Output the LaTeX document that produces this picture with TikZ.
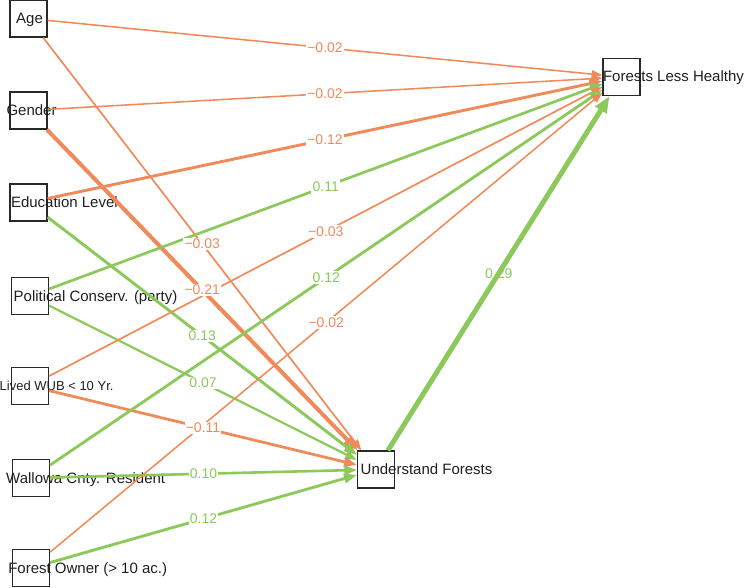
\documentclass[tikz,border=0pt]{standalone}
\usepackage{fontspec}
\setmainfont{Liberation Sans}
\usetikzlibrary{arrows.meta}
\definecolor{negc}{RGB}{240,138,90}
\definecolor{posc}{RGB}{140,200,90}
\definecolor{boxgray}{RGB}{40,40,40}
\tikzset{
  box/.style={draw=boxgray, line width=1.3pt, minimum size=37pt, inner sep=0pt},
  vlab/.style={anchor=base west, font=\fontsize{15}{18}\selectfont, text=black!88, inner sep=0pt},
  vlabs/.style={anchor=base west, font=\fontsize{13}{16}\selectfont, text=black!88, inner sep=0pt},
  edgeline/.style={-{Triangle[length=8pt 1.7, width=5.5pt 1.4]}},
  negedge/.style={edgeline, draw=negc},
  posedge/.style={edgeline, draw=posc},
  elab/.style={fill=white, inner sep=1.2pt, font=\fontsize{14}{16}\selectfont},
  nlab/.style={elab, text=negc},
  plab/.style={elab, text=posc}
}
\begin{document}
\begin{tikzpicture}[x=1pt,y=-1pt]
\useasboundingbox (0,0) rectangle (744,588);
% boxes
\node[box] (age) at (28.5,18.5) {};
\node[box] (gen) at (28.5,110.5) {};
\node[box] (edu) at (28.5,202.5) {};
\node[box] (pol) at (30,296) {};
\node[box] (liv) at (30,386) {};
\node[box] (wal) at (31,478) {};
\node[box] (own) at (31,568) {};
\node[box] (und) at (376,469.5) {};
\node[box] (flh) at (621.5,77) {};
% node texts
\node[vlab] (tage) at (16,23.5) {Age};
\node[vlab] (tgen) at (6.3,115.5) {Gender};
\node[vlab] (tedu) at (10.8,207.5) {Education Level};
\node[vlab] (tpol) at (13.5,301) {Political Conserv. (party)};
\node[vlabs] (tliv) at (-0.5,390.7) {Lived WUB < 10 Yr.};
\node[vlab] (twal) at (6,483) {Wallowa Cnty. Resident};
\node[vlab] (town) at (8.1,573) {Forest Owner (> 10 ac.)};
\node[vlab] (tund) at (360.5,474.5) {Understand Forests};
\node[vlab] (tflh) at (602.8,82) {Forests Less Healthy};
% edges to Understand Forests
\draw[negedge, line width=1.7pt] (age) -- coordinate[midway] (m1) (und);
\draw[negedge, line width=4pt] (gen) -- coordinate[midway] (m2) (und);
\draw[posedge, line width=2.95pt] (edu) -- coordinate[midway] (m3) (und);
\draw[posedge, line width=2.2pt] (pol) -- coordinate[midway] (m4) (und);
\draw[negedge, line width=2.75pt] (liv) -- coordinate[midway] (m5) (und);
\draw[posedge, line width=2.6pt] (wal) -- coordinate[midway] (m6) (und);
\draw[posedge, line width=2.85pt] (own) -- coordinate[midway] (m7) (und);
% edges to Forests Less Healthy
\draw[negedge, line width=1.55pt] (age) -- coordinate[midway] (m8) (flh);
\draw[negedge, line width=1.55pt] (gen) -- coordinate[midway] (m9) (flh);
\draw[negedge, line width=2.9pt] (edu) -- coordinate[midway] (m10) (flh);
\draw[posedge, line width=2.7pt] (pol) -- coordinate[midway] (m11) (flh);
\draw[negedge, line width=1.7pt] (liv) -- coordinate[midway] (m12) (flh);
\draw[posedge, line width=2.85pt] (wal) -- coordinate[midway] (m13) (flh);
\draw[negedge, line width=1.55pt] (own) -- coordinate[midway] (m14) (flh);
\draw[posedge, line width=5pt] (und) -- coordinate[midway] (m15) (flh);
% labels
\node[nlab] (l1) at (m1) {−0.03};
\node[nlab] (l2) at (m2) {−0.21};
\node[plab] (l3) at (m3) {0.13};
\node[plab] (l4) at (m4) {0.07};
\node[nlab] (l5) at (m5) {−0.11};
\node[plab] (l6) at (m6) {0.10};
\node[plab] (l7) at (m7) {0.12};
\node[nlab] (l8) at (m8) {−0.02};
\node[nlab] (l9) at (m9) {−0.02};
\node[nlab] (l10) at (m10) {−0.12};
\node[plab] (l11) at (m11) {0.11};
\node[nlab] (l12) at (m12) {−0.03};
\node[plab] (l13) at (m13) {0.12};
\node[nlab] (l14) at (m14) {−0.02};
\node[plab, fill=none] (l15) at (m15) {0.29};
\end{tikzpicture}
\end{document}
